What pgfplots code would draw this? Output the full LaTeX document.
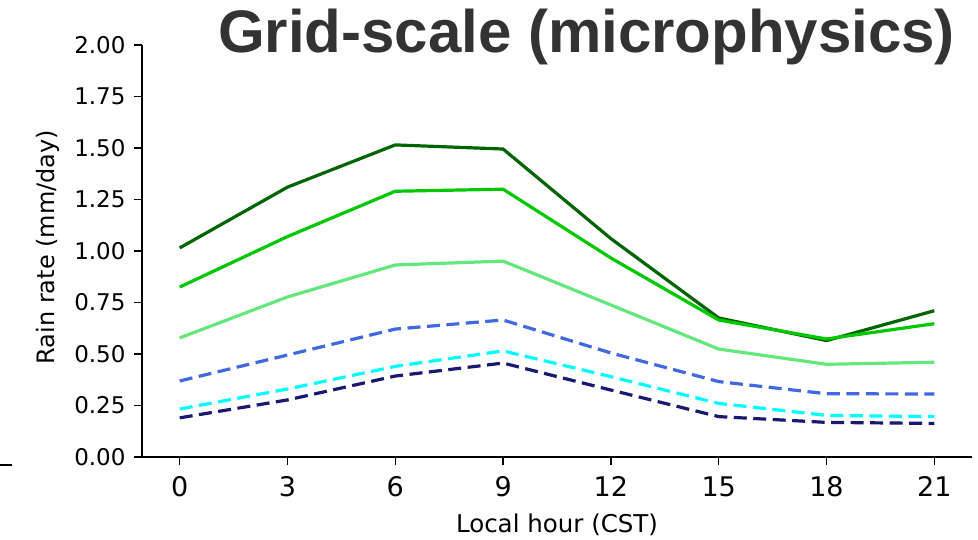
\documentclass[border=0pt]{standalone}
\usepackage{pgfplots}
\pgfplotsset{compat=1.18}
\usepackage{fontspec}
\setmainfont{DejaVu Sans}
\newfontfamily\titlefont{Liberation Sans}
\definecolor{cdg}{HTML}{006400}
\definecolor{cg}{HTML}{00C800}
\definecolor{clg}{HTML}{64E87C}
\definecolor{crb}{HTML}{4169E1}
\definecolor{ccy}{HTML}{00FFFF}
\definecolor{cnv}{HTML}{191970}
\definecolor{ctitle}{HTML}{333333}
\begin{document}
\begin{tikzpicture}
\useasboundingbox (-142pt,-83pt) rectangle (836pt,457pt);
\begin{axis}[
  at={(0pt,0pt)}, anchor=south west,
  scale only axis, width=830pt, height=412pt,
  xmin=-1.05, xmax=22.05, ymin=0, ymax=2,
  axis x line*=bottom, axis y line*=left,
  axis line style={line width=1.6pt, -},
  tick align=outside, major tick length=8pt,
  every tick/.style={black, line width=1.4pt},
  xtick={0,3,...,21}, ytick={0,0.25,...,2.0},
  /pgf/number format/assume math mode=true,
  yticklabel style={/pgf/number format/.cd, fixed, fixed zerofill, precision=2, /tikz/.cd, font=\fontsize{23}{28}\selectfont, xshift=-5pt},
  xticklabel style={font=\fontsize{27}{32}\selectfont, yshift=-8pt},
  xlabel={Local hour (CST)}, ylabel={Rain rate (mm/day)},
  xlabel style={font=\fontsize{24.5}{30}\selectfont, at={([yshift=-76pt]axis description cs:0.5,0)}, anchor=base},
  ylabel style={font=\fontsize{24}{28}\selectfont, at={([xshift=-87pt,yshift=4pt]axis description cs:0,0.5)}, anchor=base},
  clip=false,
]
\addplot[cdg, line width=3.2pt] coordinates {(0,1.015) (3,1.31) (6,1.515) (9,1.495) (12,1.06) (15,0.675) (18,0.565) (21,0.71)};
\addplot[cg, line width=3.2pt] coordinates {(0,0.825) (3,1.07) (6,1.29) (9,1.30) (12,0.966) (15,0.665) (18,0.573) (21,0.647)};
\addplot[clg, line width=3.2pt] coordinates {(0,0.578) (3,0.777) (6,0.932) (9,0.951) (12,0.738) (15,0.524) (18,0.45) (21,0.46)};
\addplot[crb, line width=3.2pt, dash pattern=on 13pt off 6.5pt] coordinates {(0,0.369) (3,0.495) (6,0.621) (9,0.665) (12,0.505) (15,0.366) (18,0.307) (21,0.306)};
\addplot[ccy, line width=3.2pt, dash pattern=on 13pt off 6.5pt] coordinates {(0,0.233) (3,0.33) (6,0.44) (9,0.515) (12,0.39) (15,0.26) (18,0.202) (21,0.196)};
\addplot[cnv, line width=3.2pt, dash pattern=on 13pt off 6.5pt] coordinates {(0,0.19) (3,0.277) (6,0.393) (9,0.456) (12,0.325) (15,0.196) (18,0.168) (21,0.163)};
\end{axis}
\node[anchor=base, inner sep=0pt, text=ctitle, font=\titlefont\bfseries\fontsize{60}{70}\selectfont] at (444.5pt,404pt) {Grid-scale (microphysics)};
\draw[line width=1.3pt] (-142pt,-8pt) -- (-130pt,-8pt);
\end{tikzpicture}
\end{document}
